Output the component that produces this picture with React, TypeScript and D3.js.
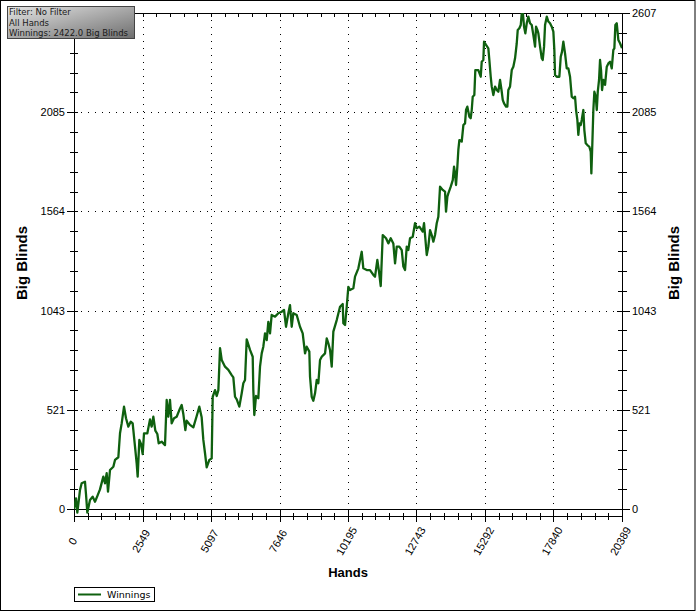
import * as d3 from "d3";

// cumulative winnings (big blinds) against hands played
const HANDS = [
  0, 74, 124, 223, 285, 409, 446, 496, 595, 695, 781, 868, 967, 1091, 1154, 1216, 1265, 1340, 1464, 1526,
  1650, 1712, 1774, 1861, 1935, 2022, 2109, 2183, 2270, 2332, 2369, 2431, 2493, 2555, 2605, 2729, 2828, 2890,
  2952, 3026, 3101, 3151, 3262, 3386, 3448, 3510, 3572, 3634, 3721, 3820, 3919, 4006, 4068, 4143, 4192, 4316,
  4440, 4565, 4663, 4750, 4812, 4875, 4937, 5036, 5123, 5161, 5247, 5310, 5371, 5433, 5496, 5619, 5743, 5867,
  5928, 5991, 6054, 6152, 6240, 6300, 6363, 6426, 6549, 6649, 6672, 6709, 6772, 6858, 6921, 6984, 7044, 7107,
  7170, 7230, 7293, 7355, 7479, 7603, 7727, 7814, 7888, 7975, 8037, 8100, 8160, 8286, 8409, 8509, 8596, 8658,
  8756, 8782, 8844, 8905, 8968, 9031, 9091, 9154, 9217, 9340, 9403, 9463, 9526, 9589, 9649, 9775, 9898, 9998,
  10021, 10084, 10147, 10207, 10270, 10393, 10456, 10580, 10642, 10705, 10765, 10891, 11014, 11137, 11200,
  11286, 11349, 11412, 11487, 11610, 11695, 11784, 11881, 11945, 12008, 12104, 12194, 12254, 12317, 12380,
  12439, 12503, 12603, 12688, 12752, 12849, 12975, 13024, 13124, 13184, 13247, 13310, 13370, 13433, 13496,
  13556, 13619, 13718, 13805, 13842, 13891, 13928, 14017, 14092, 14140, 14177, 14214, 14263, 14300, 14338,
  14426, 14487, 14549, 14586, 14635, 14710, 14760, 14798, 14835, 14895, 14932, 15044, 15133, 15170, 15230,
  15256, 15330, 15416, 15454, 15505, 15543, 15603, 15665, 15729, 15788, 15851, 15915, 15952, 16000, 16075,
  16123, 16160, 16223, 16287, 16346, 16410, 16473, 16510, 16570, 16622, 16659, 16696, 16745, 16793, 16845,
  16904, 16968, 17031, 17091, 17154, 17191, 17240, 17277, 17340, 17403, 17440, 17489, 17526, 17590, 17649,
  17712, 17775, 17835, 17872, 17898, 17961, 18058, 18110, 18158, 18207, 18270, 18333, 18393, 18456, 18519,
  18579, 18642, 18680, 18728, 18765, 18802, 18854, 18891, 18951, 18988, 19040, 19100, 19174, 19226, 19249,
  19286, 19323, 19361, 19413, 19450, 19487, 19535, 19572, 19609, 19647, 19696, 19759, 19822, 19882, 19945,
  20008, 20067, 20105, 20142, 20194, 20253, 20316, 20389,
];
const WINNINGS = [
  0, 56, -19, 100, 135, 143, 79, -19, 47, 65, 38, 68, 103, 170, 135, 188, 91, 205, 222, 258,
  272, 398, 450, 538, 477, 433, 459, 450, 328, 240, 170, 363, 342, 289, 398, 398, 471, 433,
  485, 412, 394, 345, 354, 336, 573, 485, 573, 450, 477, 485, 520, 547, 499, 415, 464, 442,
  429, 489, 538, 482, 363, 293, 219, 258, 266, 590, 625, 594, 625, 845, 783, 748, 731, 704,
  692, 590, 576, 538, 608, 661, 678, 892, 836, 800, 625, 494, 594, 582, 748, 818, 853, 923,
  888, 984, 923, 1020, 1011, 1029, 1037, 1046, 958, 1029, 1072, 958, 1029, 1020, 958, 923, 818, 853,
  827, 695, 590, 569, 608, 678, 661, 783, 800, 818, 897, 871, 836, 748, 932, 993, 1063, 1077,
  976, 967, 1063, 1168, 1151, 1160, 1221, 1265, 1309, 1352, 1265, 1256, 1256, 1230, 1221,
  1309, 1247, 1172, 1440, 1423, 1396, 1423, 1396, 1291, 1379, 1379, 1361, 1274, 1256, 1379,
  1361, 1423, 1431, 1502, 1475, 1484, 1458, 1502, 1335, 1379, 1466, 1440, 1405, 1440, 1502,
  1536, 1694, 1677, 1668, 1563, 1641, 1659, 1694, 1729, 1799, 1764, 1703, 1799, 1887, 1939,
  1931, 2018, 2027, 2097, 2115, 2062, 2054, 2097, 2167, 2176, 2307, 2307, 2272, 2351, 2360,
  2456, 2439, 2421, 2360, 2272, 2220, 2176, 2220, 2202, 2193, 2255, 2193, 2150, 2132, 2115,
  2115, 2202, 2220, 2307, 2325, 2369, 2448, 2518, 2527, 2544, 2605, 2614, 2535, 2500, 2553,
  2588, 2553, 2544, 2491, 2430, 2535, 2518, 2500, 2430, 2369, 2360, 2430, 2544, 2588, 2562,
  2553, 2535, 2509, 2413, 2281, 2272, 2272, 2377, 2404, 2456, 2395, 2316, 2316, 2272, 2167,
  2159, 2167, 2097, 2045, 1966, 2027, 2018, 2045, 2097, 1992, 1922, 1913, 1904, 1878, 1764,
  1922, 2097, 2193, 2167, 2097, 2193, 2255, 2360, 2307, 2202, 2255, 2229, 2325, 2342, 2351,
  2316, 2413, 2421, 2544, 2553, 2465, 2448, 2422,
];

const X_TICKS = [0, 2549, 5097, 7646, 10195, 12743, 15292, 17840, 20389];
const Y_TICKS = [0, 521, 1043, 1564, 2085, 2607];
const INFO_LINES = ["Filter: No Filter", "All Hands", "Winnings: 2422.0 Big Blinds"];
const SERIES_NAME = "Winnings";
const X_TITLE = "Hands";
const Y_TITLE = "Big Blinds";

const WIDTH = 696;
const HEIGHT = 613;
const MARGIN = { top: 13, right: 74, bottom: 104, left: 74 };
const LINE_COLOR = "#0f600f";
const FONT = "'Liberation Sans', Arial, sans-serif";
const SMALL_FONT = "'DejaVu Sans', Verdana, sans-serif";

// 4 minor ticks between each pair of labelled ticks
const minorTicks = (major: number[]) => {
  const out: number[] = [];
  for (let i = 0; i < major.length - 1; i++) {
    for (let k = 1; k < 5; k++) out.push(major[i] + ((major[i + 1] - major[i]) * k) / 5);
  }
  return out;
};

export default function App() {
  const left = MARGIN.left;
  const right = WIDTH - MARGIN.right;
  const top = MARGIN.top;
  const bottom = HEIGHT - MARGIN.bottom;

  const xScale = d3.scaleLinear().domain([0, X_TICKS[X_TICKS.length - 1]]).range([left, right]);
  const yScale = d3.scaleLinear().domain([0, Y_TICKS[Y_TICKS.length - 1]]).range([bottom, top]);

  const data = HANDS.map((h, i) => ({ h, v: WINNINGS[i] }));
  const linePath =
    d3
      .line<{ h: number; v: number }>()
      .x((d) => xScale(d.h))
      .y((d) => yScale(d.v))(data) ?? "";

  const xMinor = minorTicks(X_TICKS);
  const yMinor = minorTicks(Y_TICKS);
  const xAxisY = bottom + 7;

  return (
    <svg
      width={WIDTH}
      height={HEIGHT}
      style={{ position: "absolute", left: 0, top: 0, background: "#fff" }}
      fontFamily={FONT}
    >
      <defs>
        <clipPath id="plotClip">
          <rect x={left} y={top} width={right - left} height={bottom - top + 20} />
        </clipPath>
        <linearGradient id="infoGrad" x1="0" y1="0" x2="1" y2="1">
          <stop offset="0%" stopColor="#e4e4e4" />
          <stop offset="100%" stopColor="#6e6e6e" />
        </linearGradient>
      </defs>

      <rect x={0.5} y={0.5} width={WIDTH - 1.5} height={610} fill="#fff" stroke="#000" />

      {/* dotted grid */}
      <g stroke="#000" strokeWidth={1} strokeDasharray="1,6" shapeRendering="crispEdges">
        {X_TICKS.slice(1, -1).map((t) => (
          <line key={"gx" + t} x1={Math.round(xScale(t)) + 0.5} x2={Math.round(xScale(t)) + 0.5} y1={top} y2={bottom} />
        ))}
        {Y_TICKS.slice(1, -1).map((t) => (
          <line key={"gy" + t} x1={left} x2={right} y1={Math.round(yScale(t)) + 0.5} y2={Math.round(yScale(t)) + 0.5} />
        ))}
      </g>

      {/* frame and ticks */}
      <g stroke="#000" strokeWidth={1} shapeRendering="crispEdges">
        <line x1={left} x2={right} y1={top + 0.5} y2={top + 0.5} />
        <line x1={left} x2={right} y1={bottom + 0.5} y2={bottom + 0.5} />
        <line x1={left + 0.5} x2={left + 0.5} y1={top} y2={bottom + 13} />
        <line x1={right + 0.5} x2={right + 0.5} y1={top} y2={bottom + 1} />
        <line x1={left} x2={right + 1} y1={xAxisY + 0.5} y2={xAxisY + 0.5} />

        {xMinor.map((t) => {
          const x = Math.round(xScale(t)) + 0.5;
          return (
            <g key={"xm" + t}>
              <line x1={x} x2={x} y1={xAxisY - 3} y2={xAxisY + 4} />
              <line x1={x} x2={x} y1={top} y2={top + 4} />
            </g>
          );
        })}
        {X_TICKS.map((t) => {
          const x = Math.round(xScale(t)) + 0.5;
          return (
            <g key={"xM" + t}>
              <line x1={x} x2={x} y1={bottom} y2={bottom + 13} />
              <line x1={x} x2={x} y1={top} y2={top + 4} />
            </g>
          );
        })}
        {yMinor.map((t) => {
          const y = Math.round(yScale(t)) + 0.5;
          return (
            <g key={"ym" + t}>
              <line x1={left - 4} x2={left + 4} y1={y} y2={y} />
              <line x1={right - 4} x2={right + 5} y1={y} y2={y} />
            </g>
          );
        })}
        {Y_TICKS.map((t) => {
          const y = Math.round(yScale(t)) + 0.5;
          return (
            <g key={"yM" + t}>
              <line x1={left - 7} x2={left + 4} y1={y} y2={y} />
              <line x1={right - 5} x2={right + 8} y1={y} y2={y} />
            </g>
          );
        })}
      </g>

      {/* winnings line */}
      <path
        d={linePath}
        fill="none"
        stroke={LINE_COLOR}
        strokeWidth={2.3}
        strokeLinejoin="round"
        clipPath="url(#plotClip)"
      />

      {/* tick labels */}
      <g fontSize={11} fill="#000">
        {Y_TICKS.map((t) => (
          <text key={"yl" + t} x={left - 9} y={yScale(t)} textAnchor="end" dominantBaseline="central">
            {t}
          </text>
        ))}
        {Y_TICKS.map((t) => (
          <text key={"yr" + t} x={right + 10} y={yScale(t)} textAnchor="start" dominantBaseline="central">
            {t}
          </text>
        ))}
        {X_TICKS.map((t) => (
          <text
            key={"xl" + t}
            transform={`translate(${xScale(t) - 1.5},${bottom + 32}) rotate(-60)`}
            textAnchor="middle"
            dominantBaseline="central"
          >
            {t}
          </text>
        ))}
      </g>

      {/* axis titles */}
      <g fontSize={15} fontWeight="bold" fill="#000">
        <text transform={`translate(27,${(top + bottom) / 2 + 2}) rotate(-90)`} textAnchor="middle">
          {Y_TITLE}
        </text>
        <text transform={`translate(679,${(top + bottom) / 2 + 2}) rotate(-90)`} textAnchor="middle">
          {Y_TITLE}
        </text>
      </g>
      <text x={(left + right) / 2} y={577} fontSize={13} fontWeight="bold" textAnchor="middle">
        {X_TITLE}
      </text>

      {/* legend */}
      <g>
        <rect x={74.5} y={587.5} width={80} height={14} fill="#fff" stroke="#000" />
        <line x1={78} x2={101} y1={594.5} y2={594.5} stroke={LINE_COLOR} strokeWidth={2} />
        <text x={107} y={598} fontSize={9.5} fontFamily={SMALL_FONT} fill="#000">
          {SERIES_NAME}
        </text>
      </g>

      {/* info box */}
      <g>
        <rect x={7.5} y={6.5} width={127} height={32} fill="url(#infoGrad)" stroke="#444" />
        {INFO_LINES.map((s, i) => (
          <text key={s} x={9} y={15 + i * 10.6} fontSize={8.5} fontFamily={SMALL_FONT} fill="#1a1a1a">
            {s}
          </text>
        ))}
      </g>
    </svg>
  );
}
